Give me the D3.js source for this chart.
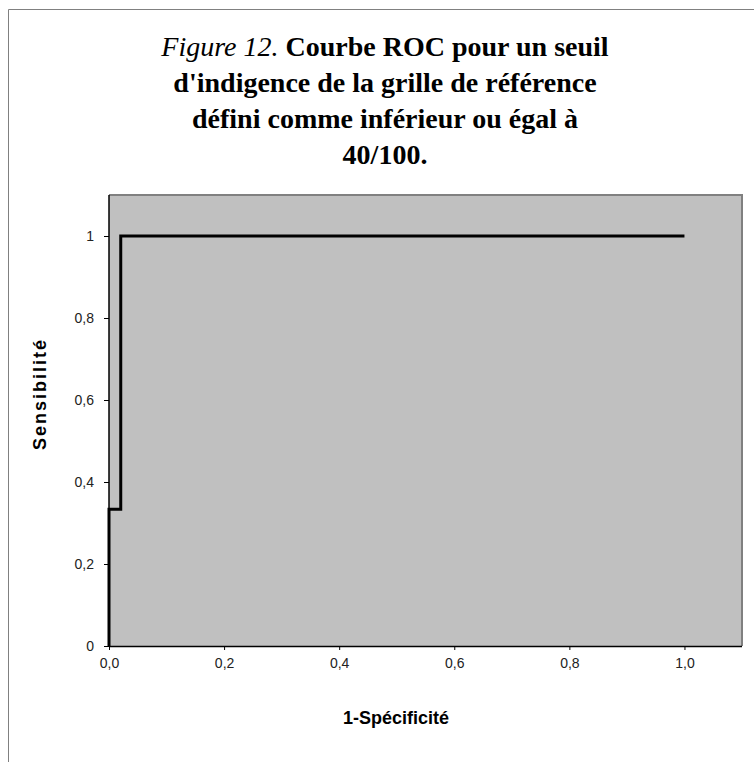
<!DOCTYPE html>
<html><head><meta charset="utf-8">
<script src="https://cdn.jsdelivr.net/npm/d3@7"></script>
<style>body{margin:0;background:#fff}svg{display:block}</style>
</head><body>
<svg id="c" width="754" height="762"></svg>
<script>
const titleLines = ["Courbe ROC pour un seuil", "d'indigence de la grille de référence", "défini comme inférieur ou égal à", "40/100."];
const titlePrefix = "Figure 12.";
const xLabel = "1-Spécificité";
const yLabel = "Sensibilité";
const fpr = [0, 0, 0.0204, 0.0204, 1];
const tpr = [0, 0.3333, 0.3333, 1, 1];
const xTicks = [0, 0.2, 0.4, 0.6, 0.8, 1.0];
const yTicks = [0, 0.2, 0.4, 0.6, 0.8, 1];

const svg = d3.select("#c");
svg.append("path").attr("d","M8.5,762V9.5H754").attr("fill","none").attr("stroke","#808080").attr("stroke-width",1);

const L=109, R=742, T=195, B=646;
const x = d3.scaleLinear().domain([0,1.1]).range([L,R]);
const y = d3.scaleLinear().domain([0,1.1]).range([B,T]);

svg.append("rect").attr("x",L).attr("y",T).attr("width",R-L).attr("height",B-T).attr("fill","#C0C0C0");
svg.append("path").attr("d",`M${L},${T}H${R}V${B}`).attr("fill","none").attr("stroke","#808080").attr("stroke-width",2);

const fmtX = d => d3.format(".1f")(d).replace(".",",");

const gx = svg.append("g").attr("transform",`translate(0,${B})`)
  .call(d3.axisBottom(x).tickValues(xTicks).tickFormat(fmtX).tickSize(4).tickSizeOuter(0).tickPadding(8));
const gy = svg.append("g").attr("transform",`translate(${L},0)`)
  .call(d3.axisLeft(y).tickValues(yTicks).tickFormat(d=>d===0||d===1?String(d):fmtX(d)).tickSize(5).tickSizeOuter(0).tickPadding(10));
[gx,gy].forEach(g=>{
  g.select(".domain").attr("stroke","#000").attr("stroke-width",1.5);
  g.selectAll(".tick line").attr("stroke","#000");
  g.selectAll(".tick text").attr("font-family","Liberation Sans, Arial, sans-serif").attr("font-size",14).attr("fill","#222");
});
gx.select(".domain").attr("d",`M${L},0.5H${R}`);
gy.select(".domain").attr("d",`M0,${T}V${B}`);

const line = d3.line().x((d,i)=>x(fpr[i])).y((d,i)=>y(tpr[i]));
svg.append("path").datum(fpr).attr("d",line).attr("fill","none").attr("stroke","#000").attr("stroke-width",3).attr("stroke-linejoin","miter");

svg.append("text").attr("x",396).attr("y",724).attr("text-anchor","middle")
  .attr("font-family","Liberation Sans, Arial, sans-serif").attr("font-weight","bold").attr("font-size",18)
  .text(xLabel);
svg.append("text").attr("transform","translate(46,395) rotate(-90)").attr("text-anchor","middle")
  .attr("font-family","Liberation Sans, Arial, sans-serif").attr("font-weight","bold").attr("font-size",18)
  .attr("textLength",110).attr("lengthAdjust","spacing").text(yLabel);

const tg = svg.append("g").attr("font-family","Liberation Serif, serif").attr("font-weight","bold").attr("font-size",28).attr("fill","#000");
const baselines=[56,92,128,164];
titleLines.forEach((t,i)=>{
  const te = tg.append("text").attr("x",385).attr("y",baselines[i]).attr("text-anchor","middle");
  if(i===0){ te.append("tspan").attr("font-style","italic").attr("font-weight","normal").text(titlePrefix+" "); }
  te.append("tspan").text(t);
});
</script>
</body></html>
